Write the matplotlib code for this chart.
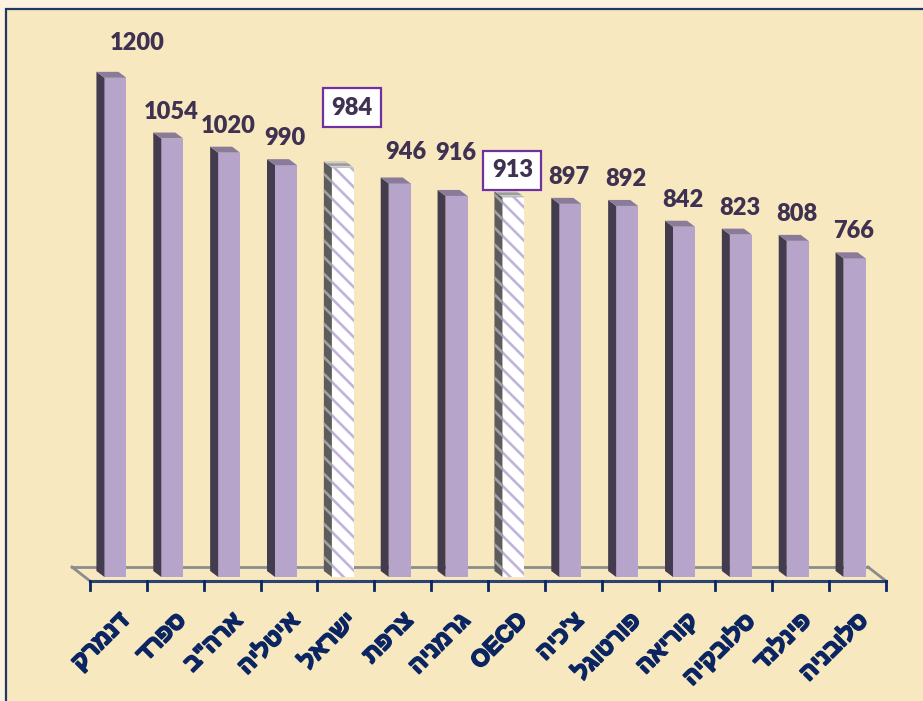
import numpy as np
import matplotlib.pyplot as plt
import matplotlib.patheffects as pe
from matplotlib.patches import Polygon, Rectangle

countries = ["דנמרק", "ספרד", 'ארה"ב', "איטליה", "ישראל", "צרפת", "גרמניה",
             "OECD", "צ'כיה", "פורטוגל", "קוריאה", "סלובקיה", "פינלנד", "סלובניה"]
values = [1200, 1054, 1020, 990, 984, 946, 916, 913, 897, 892, 842, 823, 808, 766]
highlight = ["ישראל", "OECD"]

# layout in pixels (figure 923x701 @ 100 dpi)
W, H = 923, 701
ax_l, ax_r, ax_b, ax_t = 90, 886, 581, 30
zero_px = 577
px_per_val = 0.416
ux = len(values) / (ax_r - ax_l)      # data x per pixel
uy = 1 / px_per_val                   # data y per pixel
y_lo = -(ax_b - zero_px) * uy
y_hi = (zero_px - ax_t) * uy

front_c = "#B6A4CA"
side_c = "#433B4E"
top_c = "#8A7B9A"
label_c = "#3F3151"
cat_c = "#0A2562"

plt.rcParams['hatch.linewidth'] = 1.9

fig = plt.figure(figsize=(W / 100, H / 100), dpi=100, facecolor="#FBF2DF")
fig.patches.append(Rectangle((6 / W, -0.01), 1.0, 1 - 9 / H + 0.01, transform=fig.transFigure,
                             facecolor="#F8E8BF", edgecolor="#1F3864", lw=1.6, zorder=-5))

ax = fig.add_axes([ax_l / W, 1 - ax_b / H, (ax_r - ax_l) / W, (ax_b - ax_t) / H])
ax.set_xlim(-0.5, len(values) - 0.5)
ax.set_ylim(y_lo, y_hi)
ax.axis("off")

x = np.arange(len(values))
bw = 22 * ux
dx, dy = -8 * ux, 6 * uy
shift = -3 * ux

# floor
back_y = (zero_px - 567) * uy
fl = -0.5 - 18 * ux
fr = len(values) - 0.5 - 18 * ux
ax.plot([fl, fr], [back_y, back_y], color="#8C8C8C", lw=2, zorder=1, clip_on=False)
ax.plot([fl, -0.5], [back_y, y_lo], color="#8C8C8C", lw=2, zorder=1, clip_on=False)
ax.plot([fr, len(values) - 0.5], [back_y, y_lo], color="#8C8C8C", lw=2, zorder=1, clip_on=False)
ax.plot([-0.5, len(values) - 0.5], [y_lo, y_lo], color="#2E4272", lw=2.2, zorder=2, clip_on=False)
for t in np.arange(len(values) + 1) - 0.5:
    ax.plot([t, t], [y_lo, y_lo - 9 * uy], color="#0A2562", lw=2, zorder=2, clip_on=False)

for i, (c, v) in enumerate(zip(countries, values)):
    x0 = x[i] + shift - bw / 2
    hl = c in highlight
    if hl:
        ax.bar(x[i] + shift, v, width=bw, color="white", edgecolor="#C2B4D8", hatch="\\\\",
               lw=0, zorder=3)
        ax.add_patch(Polygon([(x0, 0), (x0, v), (x0 + dx, v + dy), (x0 + dx, dy)],
                             facecolor="#5C5C5C", edgecolor="#A0A0A0", hatch="\\\\", lw=0, zorder=3))
        ax.add_patch(Polygon([(x0, v), (x0 + bw, v), (x0 + bw + dx, v + dy), (x0 + dx, v + dy)],
                             facecolor="#D0D0D0", edgecolor="#9C9C9C", hatch="----", lw=0, zorder=3))
    else:
        ax.bar(x[i] + shift, v, width=bw, color=front_c, lw=0, zorder=3)
        ax.add_patch(Polygon([(x0, 0), (x0, v), (x0 + dx, v + dy), (x0 + dx, dy)],
                             facecolor=side_c, lw=0, zorder=3))
        ax.add_patch(Polygon([(x0, v), (x0 + bw, v), (x0 + bw + dx, v + dy), (x0 + dx, v + dy)],
                             facecolor=top_c, lw=0, zorder=3))

# value labels (manual nudges in px, like the original)
nudge = {0: (23, 8), 4: (10, 33), 5: (7, 4), 6: (0, 16)}
for i, (c, v) in enumerate(zip(countries, values)):
    nx, ny = nudge.get(i, (0, 0))
    tx = x[i] - 4 * ux + nx * ux
    ty = v + (27 + ny) * uy
    box = None
    if c in highlight:
        box = dict(boxstyle="square,pad=0.36", facecolor="white", edgecolor="#7030A0", lw=1.6)
    ax.text(tx, ty, str(v), ha="center", va="center", fontsize=17, fontweight="heavy",
            family=["Lato", "DejaVu Sans"], color=label_c, bbox=box, zorder=5, clip_on=False)

# category labels: hebrew reversed into visual order
for i, c in enumerate(countries):
    lbl = c if c.isascii() else c[::-1]
    ax.text(x[i] + 7 * ux, y_lo - 36 * uy, lbl, rotation=45, rotation_mode="anchor",
            ha="right", va="center", fontsize=17, fontweight="bold", color=cat_c,
            family=["Liberation Sans", "DejaVu Sans"], clip_on=False,
            path_effects=[pe.withStroke(linewidth=1.3, foreground=cat_c)])

fig.savefig("out.png", dpi=100, facecolor=fig.get_facecolor())
